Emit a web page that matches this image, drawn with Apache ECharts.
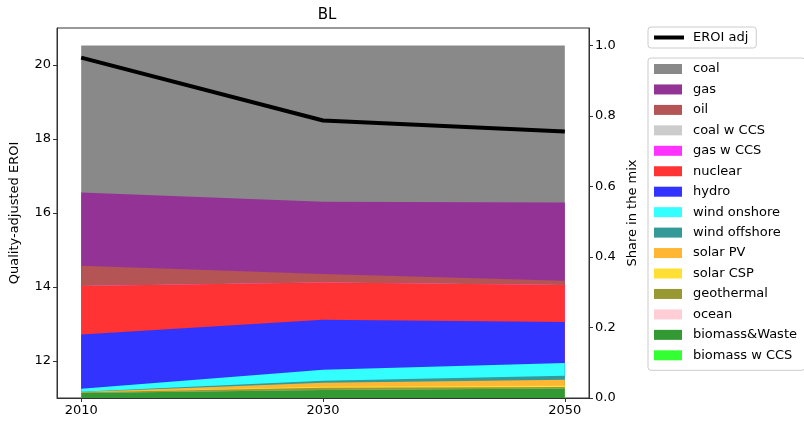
<!DOCTYPE html>
<html>
<head>
<meta charset="utf-8">
<script src="https://cdn.jsdelivr.net/npm/echarts@6/dist/echarts.min.js"></script>
<style>
  html, body { margin: 0; padding: 0; background: #fff; }
  #chart { width: 804px; height: 422px; }
</style>
</head>
<body>
<div id="chart"></div>
<script>
const years = [2010, 2030, 2050];
const eroiAdj = [20.2, 18.5, 18.2];

// legend order (top of the stack first)
const sources = [
  'coal', 'gas', 'oil', 'coal w CCS', 'gas w CCS', 'nuclear', 'hydro',
  'wind onshore', 'wind offshore', 'solar PV', 'solar CSP', 'geothermal',
  'ocean', 'biomass&Waste', 'biomass w CCS'
];
const sourceColors = [
  '#898989', '#943396', '#b55454', '#cccccc', '#ff33ff', '#ff3333', '#3333ff',
  '#33ffff', '#339999', '#ffb733', '#ffdf33', '#999933',
  '#ffcdd5', '#339933', '#33ff33'
];
const coal = [0.417, 0.443, 0.445];
const gas = [0.208, 0.205, 0.222];
const oil = [0.057, 0.024, 0.012];
const coalCCS = [0, 0, 0];
const gasCCS = [0, 0, 0];
const nuclear = [0.138, 0.106, 0.105];
const hydro = [0.154, 0.142, 0.117];
const windOnshore = [0.008, 0.031, 0.036];
const windOffshore = [0.001, 0.006, 0.011];
const solarPV = [0.001, 0.011, 0.017];
const solarCSP = [0, 0.003, 0.004];
const geothermal = [0.002, 0.006, 0.004];
const ocean = [0, 0, 0];
const biomass = [0.014, 0.023, 0.027];
const biomassCCS = [0, 0, 0];
const shares = [coal, gas, oil, coalCCS, gasCCS, nuclear, hydro, windOnshore,
  windOffshore, solarPV, solarCSP, geothermal, ocean, biomass, biomassCCS];

const eroiTicks = [12, 14, 16, 18, 20];
const shareTicks = [0, 0.2, 0.4, 0.6, 0.8, 1.0];

const font = 'DejaVu Sans';
const chart = echarts.init(document.getElementById('chart'), null, { renderer: 'canvas' });

// stack from the bottom (last source) upward; ECharts' own stack
// would stack along x here because both axes are value axes
const tops = shares.map(() => [0, 0, 0]);
const running = [0, 0, 0];
for (let i = shares.length - 1; i >= 0; i--) {
  for (let j = 0; j < years.length; j++) {
    running[j] += shares[i][j];
    tops[i][j] = running[j];
  }
}

// paint from the top layer down so lower layers cover the rest
const areaSeries = sources.map((name, i) => ({
  name: name,
  type: 'line',
  yAxisIndex: 1,
  symbol: 'none',
  lineStyle: { width: 0 },
  itemStyle: { color: sourceColors[i] },
  areaStyle: { color: sourceColors[i], opacity: 1, origin: 'start' },
  data: years.map((y, j) => [y, tops[i][j]]),
  z: 2
}));

chart.setOption({
  animation: false,
  textStyle: { fontFamily: font },
  title: {
    text: 'BL',
    left: 322,
    textAlign: 'center',
    top: 3,
    textStyle: { fontFamily: font, fontSize: 15, fontWeight: 'normal', color: '#000' }
  },
  grid: {
    left: 56, right: 215, top: 28, bottom: 24,
    show: true, borderColor: '#333', borderWidth: 1, backgroundColor: 'transparent'
  },
  legend: [
    {
      data: [{ name: 'EROI adj', icon: 'rect' }],
      left: 648, top: 27,
      itemWidth: 30, itemHeight: 4,
      padding: [4, 8, 4, 6],
      borderColor: '#ccc', borderWidth: 1, borderRadius: 3,
      selectedMode: false,
      textStyle: { fontFamily: font, fontSize: 13, color: '#000', padding: [0, 0, 0, 4] }
    },
    {
      data: sources.map(s => ({ name: s, icon: 'rect' })),
      orient: 'vertical',
      left: 648, top: 58,
      itemWidth: 28, itemHeight: 10, itemGap: 6.45,
      padding: [4, 8, 8, 6],
      borderColor: '#ccc', borderWidth: 1, borderRadius: 3,
      selectedMode: false,
      textStyle: { fontFamily: font, fontSize: 13, color: '#000', lineHeight: 14, padding: [0, 0, 0, 6] }
    }
  ],
  xAxis: {
    type: 'value',
    min: 2008, max: 2052,
    splitLine: { show: false },
    axisLine: { lineStyle: { color: '#333' } },
    axisTick: { customValues: years, length: 4, lineStyle: { color: '#333' } },
    axisLabel: {
      customValues: years, color: '#000', fontSize: 13, fontFamily: font, margin: 6,
      formatter: v => String(v)
    }
  },
  yAxis: [
    {
      type: 'value',
      min: 11, max: 21,
      position: 'left',
      name: 'Quality-adjusted EROI',
      nameLocation: 'middle',
      nameGap: 36,
      nameTextStyle: { fontFamily: font, fontSize: 13, color: '#000' },
      splitLine: { show: false },
      axisLine: { show: true, lineStyle: { color: '#333' } },
      axisTick: { show: true, customValues: eroiTicks, length: 4, lineStyle: { color: '#333' } },
      axisLabel: { customValues: eroiTicks, color: '#000', fontSize: 13, fontFamily: font, margin: 6 }
    },
    {
      type: 'value',
      min: 0, max: 1.05,
      position: 'right',
      name: 'Share in the mix',
      nameLocation: 'middle',
      nameGap: 36,
      nameRotate: 90,
      nameTextStyle: { fontFamily: font, fontSize: 13, color: '#000' },
      splitLine: { show: false },
      axisLine: { show: true, lineStyle: { color: '#333' } },
      axisTick: { show: true, customValues: shareTicks, length: 4, lineStyle: { color: '#333' } },
      axisLabel: {
        customValues: shareTicks, color: '#000', fontSize: 13, fontFamily: font, margin: 6,
        formatter: v => v.toFixed(1)
      }
    }
  ],
  series: areaSeries.concat([
    {
      name: 'EROI adj',
      type: 'line',
      yAxisIndex: 0,
      symbol: 'none',
      lineStyle: { color: '#000', width: 4 },
      itemStyle: { color: '#000' },
      data: years.map((y, j) => [y, eroiAdj[j]]),
      z: 10
    }
  ])
});
</script>
</body>
</html>
